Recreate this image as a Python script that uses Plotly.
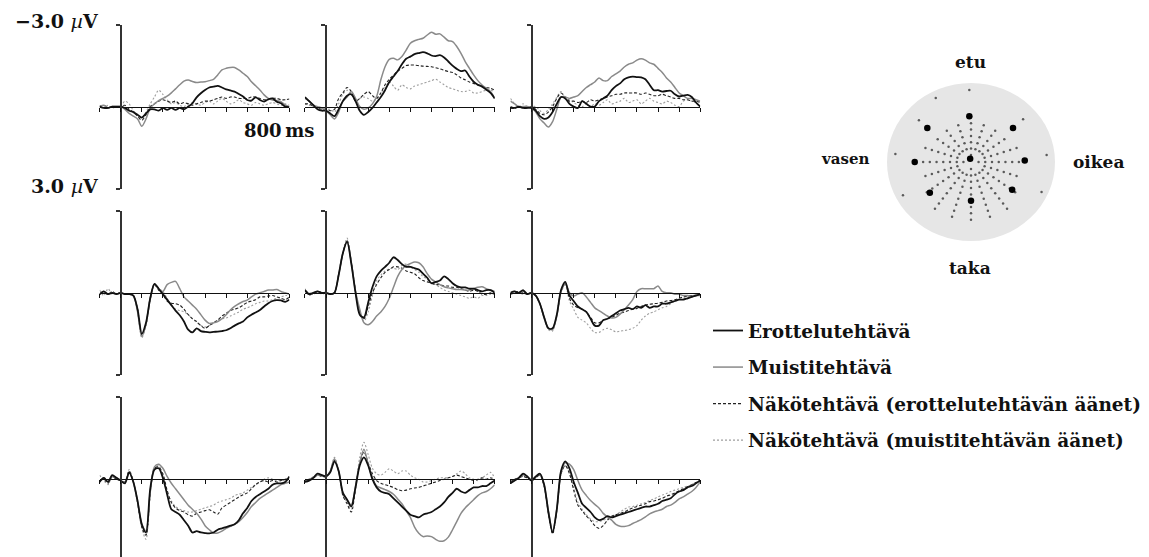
import math
import plotly.graph_objects as go

W, H = 1149, 557
times = list(range(-100, 801, 20))  # ms, sampling grid of the curves

# ---------------- data (µV, negative up) ----------------
# F3 (row 1, left)
ero_F3 = [0.0, 0.05, 0.05, 0.0, 0.0,
          0.0, 0.05, 0.15, 0.2, 0.3, 0.4, 0.25, 0.1, 0.1, 0.15,
          0.05, 0.12, 0.05, 0.12, 0.05, 0.1, 0.0, -0.12, -0.34, -0.49,
          -0.61, -0.7, -0.73, -0.76, -0.7, -0.63, -0.59, -0.55, -0.46, -0.37,
          -0.24, -0.22, -0.34, -0.24, -0.18, -0.27, -0.3, -0.18, -0.12, 0.0, 0.02]
mui_F3 = [0.0, -0.05, 0.05, 0.0, 0.0,
          0.0, 0.1, 0.25, 0.35, 0.45, 0.72, 0.45, 0.05, -0.1, -0.22,
          -0.3, -0.38, -0.5, -0.65, -0.8, -0.93, -0.97, -0.92, -0.88, -0.9,
          -0.91, -0.95, -1.0, -1.16, -1.34, -1.4, -1.43, -1.43, -1.34, -1.22,
          -1.1, -0.91, -0.76, -0.61, -0.43, -0.3, -0.24, -0.22, -0.18, -0.06, 0.0]
nero_F3 = [0.0, -0.05, 0.05, 0.0, 0.0,
           0.0, -0.05, 0.1, 0.2, 0.35, 0.5, 0.3, 0.0, -0.1, -0.2,
           -0.25, -0.2, -0.15, -0.2, -0.1, -0.15, -0.1, -0.05, -0.1, -0.15,
           -0.2, -0.2, -0.25, -0.3, -0.35, -0.3, -0.35, -0.35, -0.3, -0.3,
           -0.3, -0.35, -0.35, -0.3, -0.25, -0.25, -0.3, -0.3, -0.25, -0.25, -0.28]
nmui_F3 = [-0.05, 0.05, -0.05, 0.05, 0.0,
           0.0, -0.2, -0.1, 0.15, 0.3, 0.4, 0.2, -0.1, -0.35, -0.6,
           -0.45, -0.25, -0.1, -0.15, -0.05, 0.0, -0.1, -0.15, -0.1, -0.05,
           -0.15, -0.2, -0.1, -0.2, -0.3, -0.2, -0.1, -0.15, -0.25, -0.15,
           -0.1, -0.05, -0.15, -0.1, -0.05, -0.1, -0.15, -0.1, -0.05, -0.1, -0.05]

# Fz (row 1, middle)
ero_Fz = [-0.35, -0.2, -0.05, 0.1, 0.15,
          0.15, 0.25, 0.35, 0.1, -0.2, -0.4, -0.45, -0.2, 0.15, 0.3,
          0.2, 0.05, -0.15, -0.35, -0.6, -0.9, -1.1, -1.3, -1.55, -1.75,
          -1.83, -1.92, -1.96, -1.99, -1.95, -1.87, -1.85, -1.88, -1.8, -1.65,
          -1.5, -1.38, -1.3, -1.32, -1.1, -0.91, -0.8, -0.73, -0.62, -0.5, -0.3]
mui_Fz = [-0.3, -0.2, -0.05, 0.0, 0.05,
          0.15, 0.3, 0.45, 0.2, -0.2, -0.35, -0.55, -0.3, 0.0, 0.1,
          0.05, -0.1, -0.37, -0.98, -1.46, -1.73, -1.77, -1.71, -1.83, -2.07,
          -2.32, -2.41, -2.46, -2.5, -2.62, -2.72, -2.65, -2.66, -2.54, -2.41,
          -2.38, -2.2, -1.95, -1.65, -1.4, -1.16, -0.95, -0.79, -0.67, -0.55, -0.3]
nero_Fz = [-0.1, -0.1, 0.0, 0.05, 0.1,
           0.1, 0.15, 0.1, -0.3, -0.5, -0.7, -0.55, -0.2, -0.3, -0.45,
           -0.55, -0.4, -0.3, -0.5, -0.8, -1.0, -1.15, -1.3, -1.4, -1.5,
           -1.52, -1.52, -1.5, -1.48, -1.47, -1.46, -1.42, -1.38, -1.33, -1.28,
           -1.25, -1.16, -1.05, -0.98, -0.9, -0.85, -0.79, -0.75, -0.7, -0.67, -0.6]
nmui_Fz = [-0.1, -0.05, 0.0, 0.05, 0.05,
           0.1, 0.1, 0.2, -0.1, -0.45, -0.6, -0.5, -0.2, -0.3, -0.35,
           -0.3, -0.2, -0.3, -0.5, -0.7, -0.9, -0.75, -0.6, -0.8, -0.7,
           -0.65, -0.75, -0.8, -0.85, -0.9, -0.95, -1.0, -0.9, -0.8, -0.7,
           -0.65, -0.6, -0.55, -0.55, -0.6, -0.5, -0.5, -0.55, -0.6, -0.6, -0.55]

# F4 (row 1, right)
ero_F4 = [0.05, 0.05, 0.0, 0.05, 0.05,
          0.05, 0.15, 0.35, 0.45, 0.4, 0.2, -0.1, -0.35, -0.3, -0.1,
          0.0, 0.05, -0.2, -0.1, 0.0, 0.0, -0.2, -0.3, -0.4, -0.6,
          -0.75, -0.85, -1.0, -1.07, -1.1, -1.08, -1.07, -1.0, -0.8, -0.6,
          -0.6, -0.55, -0.57, -0.58, -0.45, -0.37, -0.4, -0.43, -0.35, -0.15, 0.0]
mui_F4 = [-0.2, -0.1, 0.0, 0.0, 0.0,
          0.05, 0.2, 0.45, 0.6, 0.75, 0.55, 0.1, -0.35, -0.35, -0.3,
          -0.35, -0.4, -0.55, -0.7, -0.8, -0.9, -1.05, -0.95, -0.95, -1.1,
          -1.2, -1.3, -1.45, -1.55, -1.6, -1.7, -1.75, -1.7, -1.6, -1.55,
          -1.4, -1.25, -1.05, -0.9, -0.7, -0.5, -0.4, -0.3, -0.3, -0.25, -0.2]
nero_F4 = [0.0, 0.05, 0.0, 0.0, 0.05,
           0.0, 0.1, 0.25, 0.3, 0.2, 0.0, -0.3, -0.5, -0.35, -0.2,
           -0.2, -0.15, -0.2, -0.15, -0.25, -0.2, -0.25, -0.3, -0.35, -0.4,
           -0.45, -0.45, -0.5, -0.5, -0.5, -0.5, -0.45, -0.5, -0.45, -0.4,
           -0.4, -0.45, -0.4, -0.35, -0.3, -0.3, -0.25, -0.25, -0.2, -0.2, -0.15]
nmui_F4 = [-0.3, -0.1, 0.0, -0.1, 0.0,
           0.0, 0.0, 0.15, 0.25, 0.1, -0.1, -0.35, -0.55, -0.3, -0.25,
           -0.15, -0.05, 0.0, -0.1, 0.0, -0.1, -0.05, -0.15, -0.25, -0.1,
           -0.15, -0.2, -0.3, -0.15, -0.2, -0.25, -0.1, -0.2, -0.3, -0.2,
           -0.15, -0.1, -0.2, -0.15, -0.05, 0.0, -0.2, -0.25, -0.2, -0.15, -0.2]

# C3 (row 2, left)
ero_C3 = [0.05, -0.05, 0.05, 0.0, 0.05,
          0.0, 0.05, 0.05, 0.1, 0.6, 1.5, 1.1, 0.2, -0.33, -0.15,
          0.05, 0.25, 0.45, 0.65, 0.82, 1.05, 1.35, 1.45, 1.3, 1.4,
          1.43, 1.45, 1.43, 1.42, 1.4, 1.37, 1.3, 1.2, 1.12, 1.05,
          0.9, 0.8, 0.72, 0.63, 0.5, 0.38, 0.3, 0.27, 0.28, 0.33, 0.25]
mui_C3 = [0.05, -0.05, 0.05, 0.0, 0.05,
          0.0, 0.05, 0.05, 0.1, 0.7, 1.6, 1.15, 0.2, -0.3, -0.15,
          -0.05, -0.3, -0.38, -0.42, -0.15, 0.15, 0.3, 0.45, 0.6, 0.8,
          1.0, 1.12, 1.1, 1.05, 0.95, 0.8, 0.63, 0.5, 0.4, 0.32,
          0.27, 0.15, 0.05, 0.0, -0.05, -0.1, -0.1, -0.12, -0.05, 0.0, 0.05]
nero_C3 = [0.05, 0.0, 0.05, -0.05, 0.05,
           0.0, 0.05, 0.05, 0.1, 0.6, 1.55, 1.15, 0.2, -0.3, -0.1,
           0.05, 0.3, 0.38, 0.4, 0.45, 0.6, 0.8, 0.95, 1.05, 1.2,
           1.3, 1.2, 1.1, 1.0, 0.85, 0.75, 0.65, 0.6, 0.55, 0.45,
           0.35, 0.3, 0.25, 0.15, 0.15, 0.12, 0.1, 0.15, 0.2, 0.25, 0.15]
nmui_C3 = [-0.1, 0.1, -0.15, 0.05, 0.0,
           0.0, 0.05, 0.05, 0.1, 0.7, 1.65, 1.2, 0.25, -0.35, -0.15,
           -0.05, 0.2, 0.45, 0.6, 0.65, 0.7, 0.8, 0.95, 1.08, 1.2,
           1.25, 1.2, 1.1, 1.0, 0.95, 0.92, 0.85, 0.78, 0.7, 0.6,
           0.55, 0.48, 0.4, 0.35, 0.3, 0.3, 0.25, 0.2, 0.15, 0.1, 0.1]

# Cz (row 2, middle)
ero_Cz = [-0.1, 0.05, 0.0, -0.05, 0.0,
          0.0, 0.05, 0.0, -0.65, -1.45, -1.87, -1.07, 0.0, 0.8, 0.9,
          0.35, -0.2, -0.6, -0.8, -0.95, -1.1, -1.3, -1.2, -1.05, -0.95,
          -0.95, -0.9, -0.85, -0.7, -0.55, -0.35, -0.4, -0.45, -0.6, -0.5,
          -0.35, -0.25, -0.2, -0.2, -0.15, -0.15, -0.1, -0.05, -0.1, -0.1, 0.0]
mui_Cz = [-0.1, 0.05, 0.0, -0.05, 0.0,
          0.0, 0.05, 0.0, -0.65, -1.45, -1.9, -1.1, -0.05, 0.6, 1.1,
          1.17, 1.05, 0.85, 0.7, 0.5, 0.2, -0.2, -0.6, -0.85, -1.0,
          -1.07, -1.13, -1.1, -0.95, -0.7, -0.5, -0.4, -0.3, -0.22, -0.18,
          -0.15, -0.12, -0.12, -0.1, -0.1, -0.15, -0.2, -0.22, -0.15, -0.1, -0.05]
nero_Cz = [-0.05, 0.0, 0.05, -0.05, 0.0,
           0.0, 0.05, 0.0, -0.65, -1.45, -1.9, -1.1, -0.05, 0.75, 0.95,
           0.5, 0.0, -0.3, -0.55, -0.75, -0.85, -0.95, -0.95, -0.9, -0.8,
           -0.75, -0.7, -0.55, -0.45, -0.4, -0.35, -0.3, -0.3, -0.25, -0.25,
           -0.2, -0.2, -0.15, -0.1, -0.05, -0.1, -0.05, 0.05, 0.05, 0.0, 0.05]
nmui_Cz = [-0.15, 0.1, 0.0, -0.05, 0.05,
           0.0, 0.05, 0.0, -0.7, -1.5, -2.0, -1.15, -0.05, 0.75, 1.05,
           0.7, 0.1, -0.45, -0.65, -0.8, -0.88, -0.9, -0.85, -1.0, -1.05,
           -0.95, -0.85, -0.75, -0.6, -0.5, -0.35, -0.3, -0.2, -0.1, -0.05,
           0.0, 0.05, 0.1, 0.15, 0.2, 0.15, 0.2, 0.1, 0.1, 0.05, 0.05]

# C4 (row 2, right)
ero_C4 = [0.0, -0.05, 0.0, -0.1, 0.05,
          0.0, 0.1, 0.4, 0.9, 1.3, 1.3, 0.8, -0.1, -0.4, 0.1,
          0.3, 0.5, 0.6, 0.7, 0.95, 1.2, 1.2, 1.0, 0.95, 0.85,
          0.75, 0.65, 0.6, 0.55, 0.6, 0.5, 0.55, 0.45, 0.55, 0.5,
          0.5, 0.4, 0.4, 0.35, 0.3, 0.25, 0.25, 0.2, 0.15, 0.1, 0.05]
mui_C4 = [0.0, -0.05, 0.0, -0.05, 0.05,
          0.0, 0.1, 0.4, 0.9, 1.3, 1.35, 0.85, -0.05, -0.35, 0.0,
          0.12, 0.05, 0.0, 0.15, 0.35, 0.55, 0.65, 0.75, 0.85, 0.92,
          0.9, 0.78, 0.62, 0.45, 0.25, -0.05, -0.15, -0.15, -0.15, -0.15,
          -0.25, -0.05, 0.0, 0.0, 0.05, 0.05, 0.1, 0.1, 0.15, 0.1, 0.1]
nero_C4 = [0.05, 0.0, -0.05, 0.0, 0.05,
           0.0, 0.1, 0.4, 0.9, 1.3, 1.3, 0.8, -0.05, -0.35, 0.2,
           0.45, 0.55, 0.6, 0.7, 0.9, 1.1, 1.1, 1.0, 0.95, 0.9,
           0.82, 0.75, 0.7, 0.65, 0.6, 0.57, 0.5, 0.45, 0.42, 0.4,
           0.38, 0.35, 0.3, 0.28, 0.25, 0.2, 0.15, 0.12, 0.1, 0.08, 0.05]
nmui_C4 = [0.05, -0.05, 0.0, 0.05, 0.0,
           0.0, 0.1, 0.45, 0.95, 1.35, 1.4, 0.85, 0.0, -0.3, 0.3,
           0.6, 0.9, 1.0, 1.1, 1.3, 1.45, 1.45, 1.35, 1.3, 1.35,
           1.43, 1.4, 1.38, 1.35, 1.3, 1.2, 1.0, 0.85, 0.75, 0.7,
           0.62, 0.55, 0.5, 0.4, 0.3, 0.25, 0.2, 0.15, 0.1, 0.1, 0.05]

# P3 (row 3, left)
ero_P3 = [0.1, -0.05, 0.1, -0.15, -0.05,
          0.05, 0.15, -0.25, 0.1, 0.8, 1.65, 1.95, 0.35, -0.35, -0.4,
          -0.05, 0.55, 1.1, 1.2, 1.3, 1.5, 1.7, 1.95, 1.9, 1.95,
          1.97, 1.98, 1.95, 1.85, 1.8, 1.75, 1.7, 1.65, 1.5, 1.25,
          1.05, 0.8, 0.65, 0.55, 0.45, 0.35, 0.2, 0.15, 0.15, 0.1, -0.1]
mui_P3 = [0.1, -0.05, 0.1, -0.1, -0.05,
          0.05, 0.15, -0.25, 0.1, 0.8, 1.65, 1.9, 0.45, -0.45, -0.55,
          -0.4, -0.1, 0.15, 0.35, 0.55, 0.75, 0.95, 1.1, 1.25, 1.45,
          1.7, 1.85, 1.97, 1.97, 1.9, 1.8, 1.72, 1.65, 1.55, 1.4,
          1.22, 1.0, 0.85, 0.7, 0.6, 0.5, 0.4, 0.3, 0.2, 0.15, 0.1]
nero_P3 = [0.05, 0.0, 0.15, -0.1, 0.0,
           0.05, 0.1, -0.3, 0.1, 0.85, 1.75, 2.05, 0.5, -0.4, -0.45,
           -0.2, 0.4, 0.85, 1.05, 1.15, 1.2, 1.3, 1.35, 1.25, 1.2,
           1.15, 1.12, 1.2, 1.28, 1.05, 0.95, 0.85, 0.75, 0.65, 0.57,
           0.5, 0.35, 0.2, 0.1, 0.05, 0.1, 0.05, 0.1, 0.05, 0.0, -0.05]
nmui_P3 = [-0.15, 0.05, 0.2, -0.1, 0.0,
           0.05, 0.1, -0.35, 0.1, 0.85, 1.8, 2.2, 0.55, -0.4, -0.5,
           -0.1, 0.5, 0.8, 1.0, 1.1, 1.15, 1.2, 1.2, 1.15, 1.1,
           1.05, 1.0, 0.95, 0.85, 0.8, 0.75, 0.7, 0.6, 0.55, 0.5,
           0.4, 0.3, 0.2, 0.1, 0.0, -0.05, 0.0, 0.05, 0.05, 0.05, 0.05]

# Pz (row 3, middle)
ero_Pz = [0.1, 0.05, -0.05, -0.2, -0.15,
          -0.1, -0.25, -0.65, -0.3, 0.5, 0.75, 1.0, 0.3, -0.5, -0.8,
          -0.5, 0.0, 0.3, 0.45, 0.5, 0.55, 0.7, 0.85, 1.0, 1.15,
          1.3, 1.35, 1.4, 1.3, 1.25, 1.2, 1.1, 1.0, 0.85, 0.65,
          0.5, 0.35, 0.45, 0.5, 0.4, 0.3, 0.3, 0.25, 0.25, 0.15, 0.05]
mui_Pz = [0.1, 0.0, -0.05, -0.15, -0.15,
          -0.1, -0.3, -0.75, -0.3, 0.5, 0.75, 0.95, 0.25, -0.6, -1.1,
          -0.55, -0.05, 0.25, 0.32, 0.38, 0.45, 0.55, 0.72, 0.9, 1.15,
          1.4, 1.75, 1.98, 2.1, 2.08, 2.1, 2.2, 2.27, 2.25, 2.12,
          1.85, 1.55, 1.25, 1.05, 0.9, 0.75, 0.6, 0.5, 0.45, 0.35, 0.2]
nero_Pz = [0.05, 0.0, -0.05, -0.15, -0.1,
           -0.1, -0.25, -0.7, -0.3, 0.6, 0.9, 1.2, 0.35, -0.6, -1.0,
           -0.6, -0.2, 0.05, 0.15, 0.2, 0.25, 0.3, 0.38, 0.42, 0.4,
           0.35, 0.32, 0.3, 0.25, 0.2, 0.15, 0.1, 0.05, 0.0, -0.05,
           -0.1, -0.15, -0.1, -0.05, 0.0, 0.05, 0.0, -0.05, 0.0, -0.05, 0.0]
nmui_Pz = [0.0, 0.05, -0.1, -0.15, -0.1,
           -0.1, -0.3, -0.8, -0.35, 0.55, 0.85, 1.1, 0.3, -0.8, -1.35,
           -0.9, -0.4, -0.2, -0.15, -0.25, -0.38, -0.3, -0.2, -0.3, -0.3,
           -0.15, -0.05, 0.0, 0.1, 0.1, 0.05, 0.0, -0.05, -0.05, -0.05,
           -0.1, -0.2, -0.3, -0.2, -0.05, 0.0, 0.05, -0.05, -0.15, -0.25, -0.05]

# P4 (row 3, right)
ero_P4 = [0.15, 0.05, -0.05, -0.2, -0.1,
          0.05, -0.1, -0.2, 0.2, 1.2, 1.95, 1.1, -0.3, -0.65, -0.4,
          0.1, 0.5, 0.9, 1.05, 1.2, 1.4, 1.5, 1.45, 1.35, 1.4,
          1.35, 1.3, 1.25, 1.2, 1.15, 1.1, 1.05, 1.0, 1.0, 0.95,
          0.9, 0.8, 0.75, 0.7, 0.55, 0.45, 0.4, 0.3, 0.25, 0.15, 0.05]
mui_P4 = [0.15, 0.05, -0.05, -0.15, -0.1,
          0.05, -0.1, -0.2, 0.2, 1.15, 1.9, 1.1, -0.25, -0.6, -0.55,
          -0.35, 0.05, 0.4, 0.6, 0.78, 0.92, 1.05, 1.25, 1.38, 1.5,
          1.65, 1.72, 1.73, 1.7, 1.62, 1.55, 1.48, 1.38, 1.27, 1.2,
          1.15, 1.1, 1.0, 0.95, 0.85, 0.72, 0.65, 0.55, 0.45, 0.3, 0.1]
nero_P4 = [0.1, 0.0, -0.05, -0.1, -0.05,
           0.05, -0.05, -0.15, 0.25, 1.25, 2.0, 1.15, -0.2, -0.5, -0.2,
           0.4, 0.95, 1.15, 1.35, 1.5, 1.7, 1.8, 1.7, 1.5, 1.35,
           1.3, 1.25, 1.2, 1.12, 1.05, 1.0, 0.95, 0.9, 0.82, 0.8,
           0.75, 0.7, 0.62, 0.57, 0.5, 0.42, 0.35, 0.28, 0.2, 0.12, 0.05]
nmui_P4 = [0.1, 0.05, -0.05, -0.1, -0.05,
           0.05, -0.05, -0.15, 0.25, 1.2, 1.95, 1.1, -0.2, -0.5, -0.3,
           0.3, 0.85, 1.1, 1.3, 1.45, 1.55, 1.55, 1.5, 1.45, 1.38,
           1.3, 1.2, 1.1, 1.02, 1.0, 0.95, 0.9, 0.85, 0.78, 0.72,
           0.65, 0.58, 0.52, 0.45, 0.4, 0.35, 0.3, 0.25, 0.2, 0.12, 0.05]

electrodes = ["F3", "Fz", "F4", "C3", "Cz", "C4", "P3", "Pz", "P4"]
series_names = ["Erottelutehtävä", "Muistitehtävä",
                "Näkötehtävä (erottelutehtävän äänet)",
                "Näkötehtävä (muistitehtävän äänet)"]
panel_data = {
    "F3": [ero_F3, mui_F3, nero_F3, nmui_F3],
    "Fz": [ero_Fz, mui_Fz, nero_Fz, nmui_Fz],
    "F4": [ero_F4, mui_F4, nero_F4, nmui_F4],
    "C3": [ero_C3, mui_C3, nero_C3, nmui_C3],
    "Cz": [ero_Cz, mui_Cz, nero_Cz, nmui_Cz],
    "C4": [ero_C4, mui_C4, nero_C4, nmui_C4],
    "P3": [ero_P3, mui_P3, nero_P3, nmui_P3],
    "Pz": [ero_Pz, mui_Pz, nero_Pz, nmui_Pz],
    "P4": [ero_P4, mui_P4, nero_P4, nmui_P4],
}

# electrode map (head coordinates, nose up)
elec_x = [-0.52, -0.02, 0.50, -0.67, -0.01, 0.64, -0.49, 0.0, 0.49]
elec_y = [0.43, 0.58, 0.43, 0.0, 0.04, 0.02, -0.39, -0.49, -0.35]
net_spoke_angles = [0, 18, 36, 54, 72, 90, 108, 126, 144, 162,
                    180, 198, 216, 234, 252, 270, 288, 306, 324, 342]
net_spoke_first = [0, 1, 1, 1, 1, 0, 1, 1, 1, 1,
                   0, 1, 1, 1, 1, 0, 1, 1, 1, 1]
net_spoke_last = [7, 7, 6, 6, 6, 7, 6, 6, 6, 7,
                  7, 7, 8, 9, 9, 9, 9, 9, 8, 7]
net_radii = [0.09, 0.17, 0.25, 0.33, 0.41, 0.49, 0.57, 0.65, 0.73]
net_outer_x = [-0.02, -0.42, -0.62, 0.62, -0.90, 0.90, -0.81, 0.84]
net_outer_y = [0.91, 0.81, 0.53, 0.54, 0.10, 0.09, -0.42, -0.38]

# ---------------- styling / geometry ----------------
colors = ["#111111", "#8a8a8a", "#222222", "#9e9e9e"]
widths = [1.8, 1.5, 1.1, 1.1]
dashes = ["solid", "solid", "3px,2px", "2px,2px"]
draw_order = [3, 2, 1, 0]

col_t0_px = [120.7, 326.0, 531.5]
row_zero_px = [106.6, 292.8, 479.2]
px_per_ms = 0.2109
px_per_uv = 27.33
SERIF = "DejaVu Serif"

fig = go.Figure()
layout = {}

for k, name in enumerate(electrodes):
    r, c = divmod(k, 3)
    sfx = "" if k == 0 else str(k + 1)
    t0 = col_t0_px[c]
    z0 = row_zero_px[r]
    x_left = t0 - 100 * px_per_ms
    x_right = t0 + 800 * px_per_ms
    top_px = z0 - 3 * px_per_uv
    bot_px = min(z0 + 3 * px_per_uv, H)
    bot_val = (bot_px - z0) / px_per_uv
    layout["xaxis" + sfx] = dict(
        domain=[x_left / W, x_right / W], range=[-100, 800],
        anchor="free", position=1 - z0 / H,
        showline=True, linecolor="#111", linewidth=1.3,
        ticks="outside", ticklen=4, tickwidth=1, tickcolor="#111",
        tickvals=list(range(-100, 801, 100)), showticklabels=False,
        showgrid=False, zeroline=False, fixedrange=True)
    layout["yaxis" + sfx] = dict(
        domain=[1 - bot_px / H, 1 - top_px / H], range=[bot_val, -3],
        anchor="free", position=t0 / W,
        showline=True, linecolor="#333", linewidth=1.5,
        ticks="outside", ticklen=4, tickwidth=1.5, tickcolor="#333",
        tickvals=[-3, 3], showticklabels=False,
        showgrid=False, zeroline=False, fixedrange=True)
    for s in draw_order:
        fig.add_trace(go.Scatter(
            x=times, y=panel_data[name][s], mode="lines",
            line=dict(color=colors[s], width=widths[s], dash=dashes[s],
                      shape="spline", smoothing=0.8),
            name=series_names[s], legendgroup=series_names[s],
            legendrank=s + 1, showlegend=(k == 0),
            xaxis="x" + sfx, yaxis="y" + sfx, hoverinfo="skip"))

# head map axes
hx0, hx1, hy0, hy1 = 887, 1055, 83, 241
layout["xaxis10"] = dict(domain=[hx0 / W, hx1 / W], range=[-1, 1], visible=False,
                         anchor="y10", fixedrange=True)
layout["yaxis10"] = dict(domain=[1 - hy1 / H, 1 - hy0 / H], range=[-1, 1], visible=False,
                         anchor="x10", fixedrange=True)

net_x, net_y = [], []
for ang, first, last in zip(net_spoke_angles, net_spoke_first, net_spoke_last):
    for rad in net_radii[first:last]:
        net_x.append(rad * math.cos(math.radians(ang)))
        net_y.append(rad * math.sin(math.radians(ang)))
net_x += net_outer_x
net_y += net_outer_y

fig.add_trace(go.Scatter(x=net_x, y=net_y, mode="markers",
                         marker=dict(size=2.5, color="#5a5a5a"),
                         xaxis="x10", yaxis="y10", showlegend=False, hoverinfo="skip"))
fig.add_trace(go.Scatter(x=elec_x, y=elec_y, mode="markers",
                         marker=dict(size=6.5, color="#000000"),
                         xaxis="x10", yaxis="y10", showlegend=False, hoverinfo="skip"))

shapes = [dict(type="circle", xref="x10", yref="y10", x0=-1, x1=1, y0=-1, y1=1,
               fillcolor="#e6e6e6", line=dict(width=0), layer="below")]


def ann(text, px, py, size, xanchor="center", yanchor="middle"):
    return dict(text=text, x=px / W, y=1 - py / H, xref="paper", yref="paper",
                xanchor=xanchor, yanchor=yanchor, showarrow=False,
                font=dict(family=SERIF, size=size, color="#111"))


annotations = [
    ann("<b>−3.0 </b><i>µ</i><b>V</b>", 101, 21, 19, xanchor="right"),
    ann("<b>3.0 </b><i>µ</i><b>V</b>", 101, 186, 19, xanchor="right"),
    ann("<b>800\u2009ms</b>", 316, 130, 18, xanchor="right"),
    ann("<b>etu</b>", 970, 62, 17),
    ann("<b>taka</b>", 970, 268, 17),
    ann("<b>vasen</b>", 845, 159, 15),
    ann("<b>oikea</b>", 1098, 162, 17),
]

fig.update_layout(
    **layout,
    width=W, height=H, margin=dict(l=0, r=0, t=0, b=0, autoexpand=False),
    paper_bgcolor="white", plot_bgcolor="rgba(0,0,0,0)",
    shapes=shapes, annotations=annotations,
    showlegend=True,
    legend=dict(x=(748 - 40) / W, y=1 - 312 / H, xanchor="left", yanchor="top",
                font=dict(family=SERIF, size=18.5, color="#111", weight="bold"),
                tracegroupgap=9.5, itemwidth=30, bgcolor="rgba(0,0,0,0)",
                borderwidth=0, itemclick=False, itemdoubleclick=False),
)

fig.write_html("out.html")
